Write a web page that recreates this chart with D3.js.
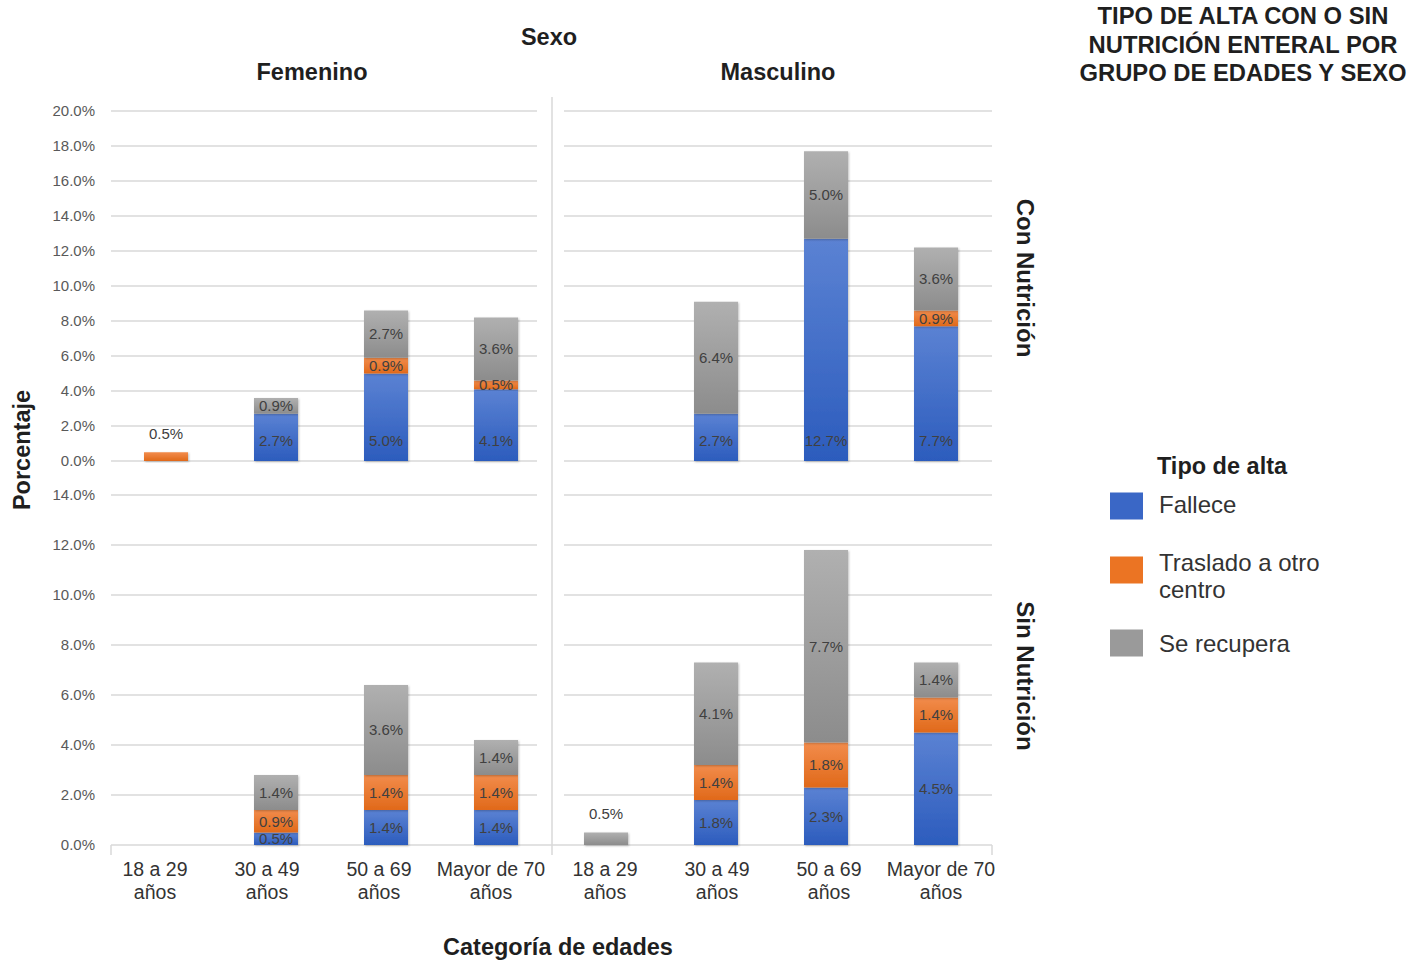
<!DOCTYPE html>
<html><head><meta charset="utf-8">
<script src="https://cdn.jsdelivr.net/npm/d3@7"></script>
<style>
html,body{margin:0;padding:0;background:#fff;}
svg{display:block;font-family:"Liberation Sans",Arial,sans-serif;}
</style></head>
<body><svg id="c" width="1412" height="964"></svg>
<script>
// ---- data ----
const categories = ["18 a 29 años", "30 a 49 años", "50 a 69 años", "Mayor de 70 años"];
const sexes = ["Femenino", "Masculino"];
const nutrition = ["Con Nutrición", "Sin Nutrición"];
const seriesNames = ["Fallece", "Traslado a otro centro", "Se recupera"];
// Con Nutrición
const conFemFallece = [0, 2.7, 5.0, 4.1];
const conFemTraslado = [0.5, 0, 0.9, 0.5];
const conFemRecupera = [0, 0.9, 2.7, 3.6];
const conMasFallece = [0, 2.7, 12.7, 7.7];
const conMasTraslado = [0, 0, 0, 0.9];
const conMasRecupera = [0, 6.4, 5.0, 3.6];
// Sin Nutrición
const sinFemFallece = [0, 0.5, 1.4, 1.4];
const sinFemTraslado = [0, 0.9, 1.4, 1.4];
const sinFemRecupera = [0, 1.4, 3.6, 1.4];
const sinMasFallece = [0, 1.8, 2.3, 4.5];
const sinMasTraslado = [0, 1.4, 1.8, 1.4];
const sinMasRecupera = [0.5, 4.1, 7.7, 1.4];
const ticksTop = [0, 2, 4, 6, 8, 10, 12, 14, 16, 18, 20];
const ticksBottom = [0, 2, 4, 6, 8, 10, 12, 14];
const titleLines = ["TIPO DE ALTA CON O SIN", "NUTRICIÓN ENTERAL POR", "GRUPO DE EDADES Y SEXO"];

const panelsData = {
  "Con Nutrición": {
    "Femenino": [conFemFallece, conFemTraslado, conFemRecupera],
    "Masculino": [conMasFallece, conMasTraslado, conMasRecupera]
  },
  "Sin Nutrición": {
    "Femenino": [sinFemFallece, sinFemTraslado, sinFemRecupera],
    "Masculino": [sinMasFallece, sinMasTraslado, sinMasRecupera]
  }
};

const svg = d3.select("#c");
const defs = svg.append("defs");
const grads = [
  ["g0", "#5b82d3", "#2c5cbd"],
  ["g1", "#f28c4c", "#e0691a"],
  ["g2", "#b0b0b0", "#8c8c8c"]
];
grads.forEach(([id, a, b]) => {
  const g = defs.append("linearGradient").attr("id", id).attr("x1", 0).attr("y1", 0).attr("x2", 0).attr("y2", 1);
  g.append("stop").attr("offset", "0%").attr("stop-color", a);
  g.append("stop").attr("offset", "100%").attr("stop-color", b);
});
const f = defs.append("filter").attr("id", "sh").attr("x", "-20%").attr("y", "-20%").attr("width", "140%").attr("height", "140%");
f.append("feDropShadow").attr("dx", 1).attr("dy", 1).attr("stdDeviation", 1.2).attr("flood-color", "#000").attr("flood-opacity", 0.25);
const fills = ["url(#g0)", "url(#g1)", "url(#g2)"];
const legendColors = ["#3a67c6", "#eb7423", "#9a9a9a"];

const yScales = {
  "Con Nutrición": d3.scaleLinear().domain([0, 20]).range([461, 111]),
  "Sin Nutrición": d3.scaleLinear().domain([0, 14]).range([845, 495])
};
const yTicks = { "Con Nutrición": ticksTop, "Sin Nutrición": ticksBottom };
const xScales = {
  "Femenino": d3.scaleBand().domain(categories).range([111, 551]).paddingInner(0.6).paddingOuter(0.3),
  "Masculino": d3.scaleBand().domain(categories).range([551, 991]).paddingInner(0.6).paddingOuter(0.3)
};
const xLabelScales = {
  "Femenino": d3.scaleBand().domain(categories).range([99, 547]),
  "Masculino": d3.scaleBand().domain(categories).range([549, 997])
};
const gridX = { "Femenino": [111, 537], "Masculino": [564, 992] };

// gridlines
nutrition.forEach(n => {
  const y = yScales[n];
  const tks = n === "Sin Nutrición" ? yTicks[n].filter(t => t > 0) : yTicks[n];
  sexes.forEach(s => {
    svg.append("g").selectAll("line").data(tks).join("line")
      .attr("x1", gridX[s][0]).attr("x2", gridX[s][1])
      .attr("y1", d => y(d)).attr("y2", d => y(d))
      .attr("stroke", "#d9d9d9").attr("stroke-width", 1.5);
  });
  // tick labels
  svg.append("g").selectAll("text").data(yTicks[n]).join("text")
    .attr("x", 95).attr("y", d => y(d)).attr("dy", "0.35em")
    .attr("text-anchor", "end").attr("font-size", 15).attr("fill", "#595959")
    .text(d => d3.format(".1f")(d) + "%");
});
// divider + bottom axis
svg.append("line").attr("x1", 552).attr("x2", 552).attr("y1", 97).attr("y2", 855).attr("stroke", "#d9d9d9").attr("stroke-width", 1.5);
const yb = yScales["Sin Nutrición"](0);
svg.append("line").attr("x1", 111).attr("x2", 992).attr("y1", yb).attr("y2", yb).attr("stroke", "#d9d9d9").attr("stroke-width", 1.5);
[111, 992].forEach(x => svg.append("line").attr("x1", x).attr("x2", x).attr("y1", yb).attr("y2", yb + 10).attr("stroke", "#d9d9d9").attr("stroke-width", 1.5));

// bars
nutrition.forEach(n => {
  const y = yScales[n];
  sexes.forEach(s => {
    const x = xScales[s];
    const vals = panelsData[n][s];
    const rows = categories.map((c, i) => {
      const r = { cat: c };
      seriesNames.forEach((sn, k) => r[sn] = vals[k][i]);
      return r;
    });
    const stacked = d3.stack().keys(seriesNames)(rows);
    const g = svg.append("g");
    stacked.forEach((layer, k) => {
      g.append("g").selectAll("rect").data(layer.filter(d => d[1] - d[0] > 0)).join("rect")
        .attr("x", d => x(d.data.cat)).attr("width", x.bandwidth())
        .attr("y", d => y(d[1])).attr("height", d => y(d[0]) - y(d[1]))
        .attr("fill", fills[k]).attr("filter", "url(#sh)");
    });
    stacked.forEach((layer, k) => {
      g.append("g").selectAll("text").data(layer.filter(d => d[1] - d[0] > 0)).join("text")
        .attr("x", d => x(d.data.cat) + x.bandwidth() / 2)
        .attr("y", d => {
          const total = seriesNames.filter(sn => d.data[sn] > 0).length;
          const h = y(d[0]) - y(d[1]);
          if (total === 1 && h < 20) return y(d[1]) - 19;
          if (n === "Con Nutrición" && k === 0) return y(0) - 20;
          return (y(d[0]) + y(d[1])) / 2;
        })
        .attr("dy", "0.35em").attr("text-anchor", "middle").attr("font-size", 15).attr("fill", "#404040")
        .text(d => d3.format(".1f")(d[1] - d[0]) + "%");
    });
  });
});

// category labels
sexes.forEach(s => {
  const xl = xLabelScales[s];
  const g = svg.append("g").selectAll("text").data(categories).join("text")
    .attr("x", d => xl(d) + xl.bandwidth() / 2).attr("y", 876)
    .attr("text-anchor", "middle").attr("font-size", 19.5).attr("fill", "#333");
  g.each(function (d) {
    const parts = d.split(" ");
    const last = parts.pop();
    d3.select(this).append("tspan").attr("x", xl(d) + xl.bandwidth() / 2).text(parts.join(" "));
    d3.select(this).append("tspan").attr("x", xl(d) + xl.bandwidth() / 2).attr("dy", 23).text(last);
  });
});

// headings
const bold = (x, y, t, size, rot) => {
  const e = svg.append("text").attr("font-weight", "bold").attr("font-size", size || 23.5).attr("fill", "#1f1f1f")
    .attr("text-anchor", "middle").attr("dy", "0.35em").text(t);
  if (rot) e.attr("transform", `translate(${x},${y}) rotate(${rot})`);
  else e.attr("x", x).attr("y", y);
  return e;
};
bold(549, 37, "Sexo");
bold(312, 72, sexes[0]);
bold(778, 72, sexes[1]);
bold(22, 450, "Porcentaje", 23.5, -90);
bold(1025, 278, nutrition[0], 24, 90);
bold(1025, 676, nutrition[1], 24, 90);
bold(558, 947, "Categoría de edades");
titleLines.forEach((t, i) => bold(1243, 16 + i * 28.5, t, 23.8));

// legend
bold(1222, 466, "Tipo de alta");
const legY = [506, 570, 643];
seriesNames.forEach((sn, k) => {
  svg.append("rect").attr("x", 1110).attr("y", legY[k] - 13.5).attr("width", 33).attr("height", 27).attr("fill", legendColors[k]);
});
const legText = [["Fallece", 505], ["Traslado a otro", 563], ["centro", 590], ["Se recupera", 644]];
legText.forEach(([t, yy]) => svg.append("text").attr("x", 1159).attr("y", yy).attr("dy", "0.35em").attr("font-size", 24).attr("fill", "#333").text(t));
</script></body></html>
